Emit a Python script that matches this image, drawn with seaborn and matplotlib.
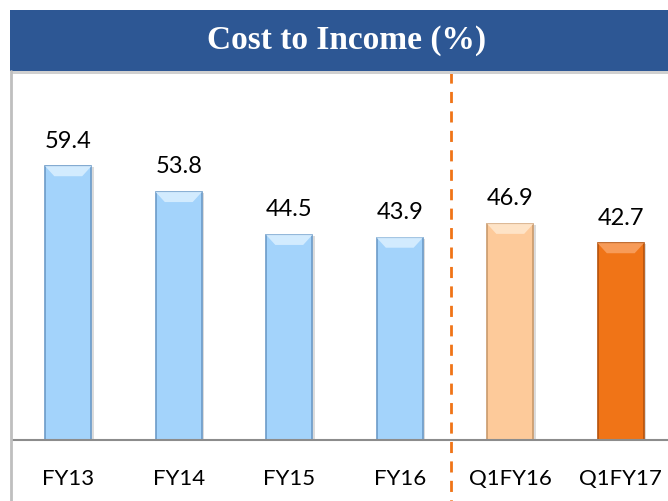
import matplotlib
matplotlib.use("Agg")
import matplotlib.pyplot as plt
import matplotlib.transforms as mtransforms
from matplotlib.patches import Rectangle, Polygon
import seaborn as sns
import pandas as pd

categories = ["FY13", "FY14", "FY15", "FY16", "Q1FY16", "Q1FY17"]
values = [59.4, 53.8, 44.5, 43.9, 46.9, 42.7]
fill_colors = ["#A3D3FB", "#A3D3FB", "#A3D3FB", "#A3D3FB", "#FDCA9A", "#F07417"]
edge_colors = ["#6C9BC8", "#6C9BC8", "#6C9BC8", "#6C9BC8", "#C99A6C", "#B5520C"]
top_colors = ["#D8EEFF", "#D8EEFF", "#D8EEFF", "#D8EEFF", "#FFE6CC", "#F8A060"]
title = "Cost to Income (%)"

sns.set_theme(style="white")
plt.rcParams["font.family"] = ["Lato", "DejaVu Sans"]

df = pd.DataFrame({"cat": categories, "val": values})

fig = plt.figure(figsize=(6.68, 5.01), dpi=100)
ax = fig.add_axes([13 / 668, 61 / 501, 655 / 668, 368 / 501])

sns.barplot(data=df, x="cat", y="val", hue="cat", palette=fill_colors,
            width=0.42, legend=False, ax=ax, saturation=1)

for p, ec, tc in zip(ax.patches, edge_colors, top_colors):
    p.set_edgecolor(ec)
    p.set_linewidth(1.2)
    x0, w, h = p.get_x(), p.get_width(), p.get_height()
    bh = 2.2
    inset = w * 0.2
    ax.add_patch(Polygon([(x0, h), (x0 + w, h), (x0 + w - inset, h - bh), (x0 + inset, h - bh)],
                         closed=True, facecolor=tc, edgecolor="none", alpha=0.9, zorder=p.get_zorder() + 0.1))
    sh = Rectangle((x0 + 0.02, 0), w, h - 0.3, facecolor="#999999", alpha=0.35,
                   edgecolor="none", zorder=p.get_zorder() - 0.1)
    ax.add_patch(sh)

for i, v in enumerate(values):
    ax.annotate(f"{v:.1f}", xy=(i, v), xytext=(0, 18), textcoords="offset points",
                ha="center", va="center", fontsize=17, color="#000000")

ax.set_xlim(-0.5, -0.5 + 655 / 110.5)
ax.set_ylim(0, 79.8)
ax.set_xlabel("")
ax.set_ylabel("")
ax.set_yticks([])
ax.tick_params(axis="x", length=0, pad=21, labelsize=16, colors="#000000")
for s in ["top", "right", "left"]:
    ax.spines[s].set_visible(False)
ax.spines["bottom"].set_color("#8C8C8C")
ax.spines["bottom"].set_linewidth(1.5)

trans = mtransforms.blended_transform_factory(ax.transData, ax.transAxes)
ax.plot([3.465, 3.465], [1.0, -0.17], transform=trans, color="#F07417",
        linestyle=(0, (4, 3)), linewidth=2, clip_on=False)

fig.add_artist(plt.Line2D([10.5 / 668, 10.5 / 668], [0, 430 / 501], color="#BFBFBF",
                          linewidth=2, transform=fig.transFigure))

fig.add_artist(Rectangle((12 / 668, (501 - 74) / 501), 1, 62 / 501, transform=fig.transFigure,
                         facecolor="#D0D0D0", edgecolor="none"))
fig.add_artist(Rectangle((10 / 668, (501 - 71) / 501), 1, 61 / 501, transform=fig.transFigure,
                         facecolor="#2D5794", edgecolor="none"))
fig.text(347 / 668, (501 - 41) / 501, title, ha="center", va="center", color="white",
         fontsize=24, fontweight="bold", family=["Liberation Serif", "DejaVu Serif"])

fig.savefig("out.png", dpi=100)
